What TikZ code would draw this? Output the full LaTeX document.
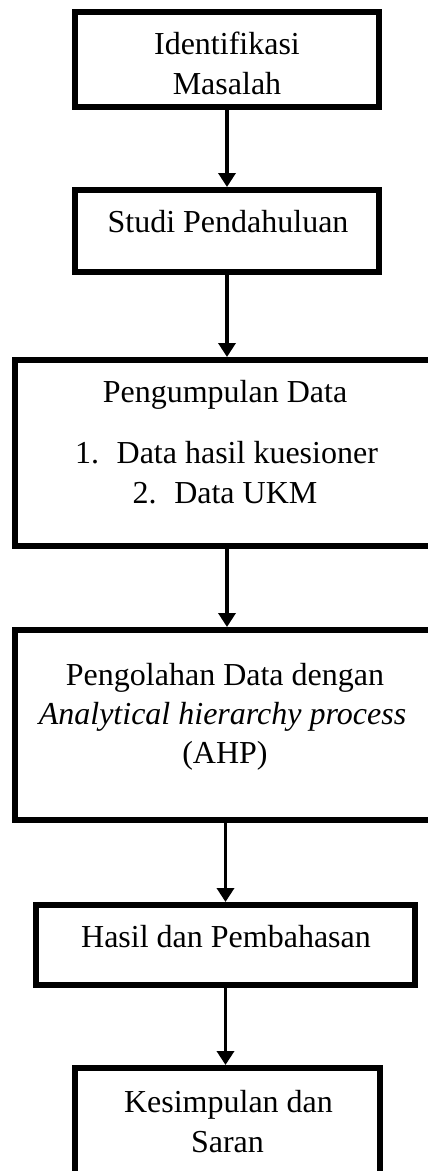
\documentclass[tikz,border=0pt]{standalone}
\usepackage{fontspec}
\setmainfont{Liberation Serif}
\usetikzlibrary{arrows.meta}

\tikzset{
  stagebox/.style={draw=black, line width=4.5pt, rectangle, inner sep=0pt, fill=none},
  label text/.style={anchor=base, inner sep=0pt, font=\fontsize{24}{30}\selectfont},
  flow/.style={draw=black, line width=2.6pt,
    -{Triangle[length=10.5pt, width=12.75pt]}, shorten >=0pt}
}

\begin{document}
\begin{tikzpicture}[x=0.75pt, y=-0.75pt]
  \useasboundingbox (0,0) rectangle (428,1171);
  \fill[white] (0,0) rectangle (428,1171);
  \clip (0,0) rectangle (428,1171);

  % stage boxes
  \node[stagebox, minimum width=228pt,    minimum height=71.25pt] (b1) at (227,59.5) {};
  \node[stagebox, minimum width=228pt,    minimum height=61.5pt]  (b2) at (227,231) {};
  \node[stagebox, minimum width=318pt,    minimum height=139.5pt] (b3) at (227,453) {};
  \node[stagebox, minimum width=318pt,    minimum height=142.5pt] (b4) at (227,725) {};
  \node[stagebox, minimum width=284.25pt, minimum height=60pt]    (b5) at (225.5,945) {};
  \node[stagebox, minimum width=228.75pt, minimum height=91.5pt]  (b6) at (227.5,1129) {};

  % box texts
  \node[label text] (t1a) at (227,54) {Identifikasi};
  \node[label text] (t1b) at (227,94) {Masalah};

  \node[label text] (t2) at (228,232) {Studi Pendahuluan};

  \node[label text] (t3a) at (225,402) {Pengumpulan Data};
  \node[label text] (t3b) at (226.5,463) {1.\hspace{0.55em}Data hasil kuesioner};
  \node[label text] (t3c) at (225,503) {2.\hspace{0.55em}Data UKM};

  \node[label text] (t4a) at (225,685) {Pengolahan Data dengan};
  \node[label text] (t4b) at (222.5,724) {\itshape Analytical hierarchy process};
  \node[label text] (t4c) at (225,763) {(AHP)};

  \node[label text] (t5) at (226,947) {Hasil dan Pembahasan};

  \node[label text] (t6a) at (228.5,1112) {Kesimpulan dan};
  \node[label text] (t6b) at (227.5,1152) {Saran};

  % connectors
  \draw[flow] (b1) -- (b2);
  \draw[flow] (b2) -- (b3);
  \draw[flow] (b3) -- (b4);
  \draw[flow] (b5.north |- b4.south) -- (b5.north);
  \draw[flow] (b5.south) -- (b5.south |- b6.north);
\end{tikzpicture}
\end{document}
